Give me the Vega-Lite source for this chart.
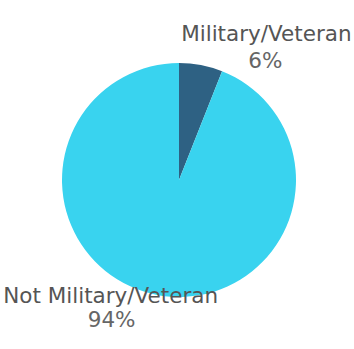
{
  "$schema": "https://vega.github.io/schema/vega-lite/v6.json",
  "width": 354,
  "height": 349,
  "autosize": {"type": "fit", "contains": "padding"},
  "padding": {"left": 4, "right": 0, "top": 11, "bottom": 0},
  "background": "white",
  "config": {"view": {"stroke": null}},
  "data": {
    "values": [
      {"category": "Military/Veteran", "value": 0.06},
      {"category": "Not Military/Veteran", "value": 0.94}
    ]
  },
  "encoding": {
    "theta": {"field": "value", "type": "quantitative", "stack": true},
    "order": {"field": "category", "type": "nominal", "sort": "ascending"}
  },
  "layer": [
    {
      "mark": {"type": "arc", "radius": 117},
      "encoding": {
        "color": {
          "field": "category",
          "type": "nominal",
          "scale": {"domain": ["Military/Veteran", "Not Military/Veteran"], "range": ["#2e6183", "#39d3ef"]},
          "legend": null
        }
      }
    },
    {
      "mark": {"type": "text", "radius": 130, "dx": 63, "dy": -17, "fontSize": 21.5, "font": "DejaVu Sans", "fill": "#555555", "align": "center", "baseline": "middle"},
      "encoding": {
        "text": {"field": "category"},
        "opacity": {"condition": {"test": "datum.category === 'Military/Veteran'", "value": 1}, "value": 0}
      }
    },
    {
      "mark": {"type": "text", "radius": 130, "dx": 62, "dy": 10, "fontSize": 21.5, "font": "DejaVu Sans", "fill": "#666666", "align": "center", "baseline": "middle"},
      "encoding": {
        "text": {"field": "value", "format": ".0%"},
        "opacity": {"condition": {"test": "datum.category === 'Military/Veteran'", "value": 1}, "value": 0}
      }
    },
    {
      "mark": {"type": "text", "radius": 130, "dx": -44, "dy": -11, "fontSize": 21.5, "font": "DejaVu Sans", "fill": "#555555", "align": "center", "baseline": "middle"},
      "encoding": {
        "text": {"field": "category"},
        "opacity": {"condition": {"test": "datum.category === 'Not Military/Veteran'", "value": 1}, "value": 0}
      }
    },
    {
      "mark": {"type": "text", "radius": 130, "dx": -43, "dy": 13, "fontSize": 21.5, "font": "DejaVu Sans", "fill": "#666666", "align": "center", "baseline": "middle"},
      "encoding": {
        "text": {"field": "value", "format": ".0%"},
        "opacity": {"condition": {"test": "datum.category === 'Not Military/Veteran'", "value": 1}, "value": 0}
      }
    }
  ]
}
